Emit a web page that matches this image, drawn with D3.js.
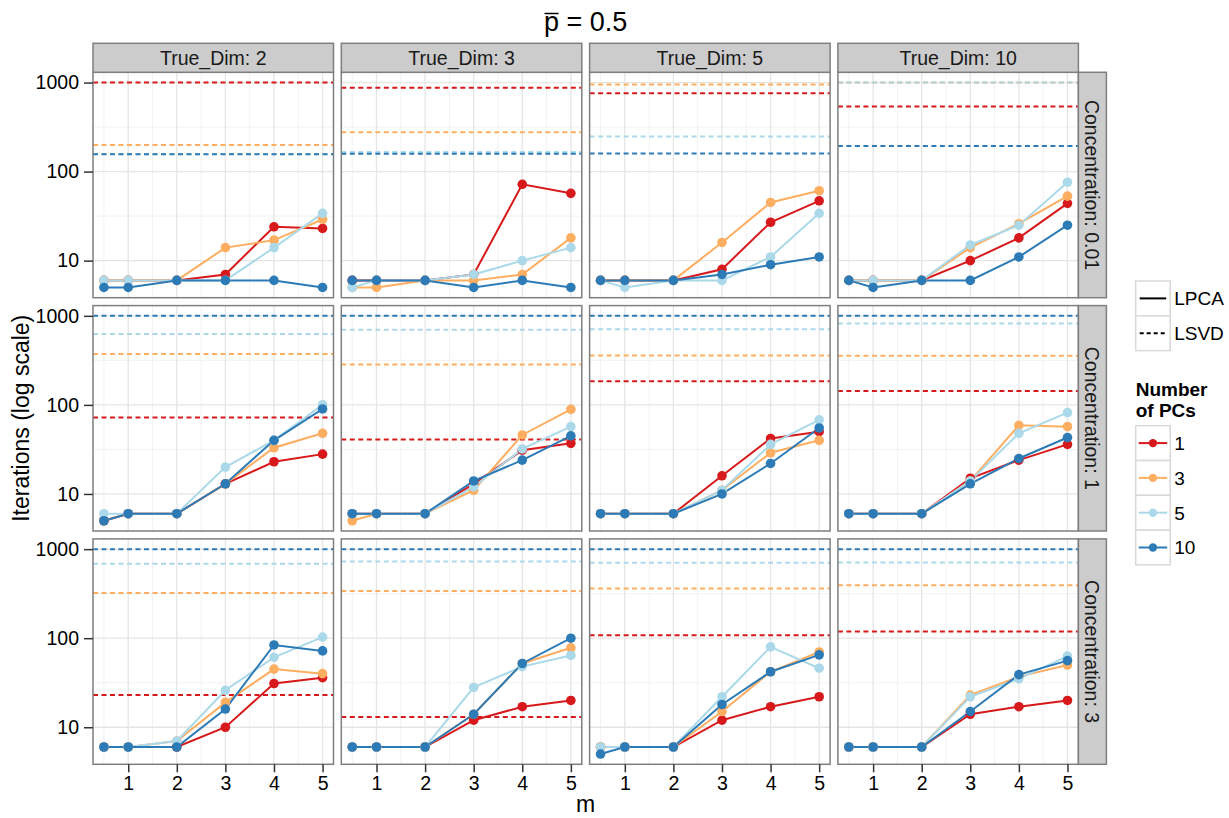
<!DOCTYPE html>
<html><head><meta charset="utf-8">
<script src="https://cdn.jsdelivr.net/npm/d3@7"></script>
<style>
body{margin:0;background:#fff}
svg text{font-family:"Liberation Sans",Arial,Helvetica,sans-serif}
</style>
</head><body>
<svg id="chart" width="1229" height="818"></svg>
<script>
// Facet levels and scale breaks
const trueDims = [2, 3, 5, 10];
const concentrations = ["0.01", "1", "3"];
const mValues = [0.5, 1, 2, 3, 4, 5];
const pcCounts = [1, 3, 5, 10];
const pcColors = ["#d7191c", "#fdae61", "#abd9e9", "#2c7bb6"];
const xTicks = [1, 2, 3, 4, 5];
const yTicks = [10, 100, 1000];
const methods = ["LPCA", "LSVD"];

// LPCA iterations by m: one array per concentration,
// rows = True_Dim 2, 3, 5, 10; inner lists = 1, 3, 5, 10 PCs
const lpcaConc001 = [
  [[6,6,6,7,24,23], [6,6,6,14,17,29], [6,6,6,6,14,34], [5,5,6,6,6,5]],
  [[6,6,6,7,72,57], [5,5,6,6,7,18], [5,6,6,7,10,14], [6,6,6,5,6,5]],
  [[6,6,6,8,27,47], [6,6,6,16,45,61], [6,5,6,6,11,34], [6,6,6,7,9,11]],
  [[6,6,6,10,18,44], [6,6,6,14,26,53], [6,6,6,15,25,76], [6,5,6,6,11,25]]
];
const lpcaConc1 = [
  [[5,6,6,13,23,28], [5,6,6,13,33,48], [6,6,6,20,40,100], [5,6,6,13,40,90]],
  [[6,6,6,13,31,37], [5,6,6,11,46,89], [6,6,6,12,32,57], [6,6,6,14,24,45]],
  [[6,6,6,16,42,50], [6,6,6,11,29,40], [6,6,6,11,36,68], [6,6,6,10,22,55]],
  [[6,6,6,15,24,36], [6,6,6,14,59,57], [6,6,6,14,48,82], [6,6,6,13,25,43]]
];
const lpcaConc3 = [
  [[6,6,6,10,31,36], [6,6,7,19,45,40], [6,6,7,26,61,103], [6,6,6,16,84,72]],
  [[6,6,6,12,17,20], [6,6,6,14,52,78], [6,6,6,28,48,64], [6,6,6,14,52,100]],
  [[6,6,6,12,17,22], [6,6,6,15,42,70], [6,6,6,22,80,46], [5,6,6,18,42,65]],
  [[6,6,6,14,17,20], [6,6,6,23,37,50], [6,6,6,22,35,63], [6,6,6,15,39,56]]
];

// LSVD iterations (constant in m): rows = True_Dim, entries = 1, 3, 5, 10 PCs
const lsvdConc001 = [[1000,199,158,157], [873,277,166,159], [760,950,248,160], [538,1000,1000,194]];
const lsvdConc1   = [[72,372,624,1000], [41,284,697,1000], [184,359,709,1000], [143,357,820,1000]];
const lsvdConc3   = [[23,321,685,1000], [13,338,728,1000], [108,362,703,1000], [119,394,708,1000]];

const lpcaByConc = [lpcaConc001, lpcaConc1, lpcaConc3];
const lsvdByConc = [lsvdConc001, lsvdConc1, lsvdConc3];

// Layout
const panelLeft = 93, panelW = 240.5, colStep = 248.3;
const panelTop = 72.3, panelH = 225.4, rowStep = 233.3;
const stripH = 29, rStripW = 28;
const borderCol = "#7f7f7f", stripFill = "#cccccc";

const svg = d3.select("#chart");

// Shared scales (5% expansion on each side)
const xExt = d3.extent(mValues), xPad = (xExt[1] - xExt[0]) * 0.05;
const x = d3.scaleLinear().domain([xExt[0] - xPad, xExt[1] + xPad]).range([0, panelW]);
const allVals = [lpcaByConc, lsvdByConc].flat(4);
const lMin = Math.log10(d3.min(allVals)), lMax = Math.log10(d3.max(allVals));
const lPad = (lMax - lMin) * 0.05;
const y = d3.scaleLog().domain([Math.pow(10, lMin - lPad), Math.pow(10, lMax + lPad)]).range([panelH, 0]);

const xMinor = [0.5, 1.5, 2.5, 3.5, 4.5];
const yMinor = [Math.pow(10, 1.5), Math.pow(10, 2.5)];

const line = d3.line().x((d, i) => x(mValues[i])).y(d => y(d));

concentrations.forEach((conc, r) => {
  trueDims.forEach((dim, c) => {
    const px = panelLeft + c * colStep, py = panelTop + r * rowStep;
    const g = svg.append("g").attr("transform", `translate(${px},${py})`);

    g.append("rect").attr("width", panelW).attr("height", panelH).attr("fill", "#fff");
    const clip = "clip-" + r + "-" + c;
    g.append("clipPath").attr("id", clip).append("rect").attr("width", panelW).attr("height", panelH);
    const inner = g.append("g").attr("clip-path", `url(#${clip})`);

    // minor grid
    inner.selectAll(".xm").data(xMinor).enter().append("line")
      .attr("x1", d => x(d)).attr("x2", d => x(d)).attr("y1", 0).attr("y2", panelH)
      .attr("stroke", "#f2f2f2").attr("stroke-width", 1);
    inner.selectAll(".ym").data(yMinor).enter().append("line")
      .attr("y1", d => y(d)).attr("y2", d => y(d)).attr("x1", 0).attr("x2", panelW)
      .attr("stroke", "#f2f2f2").attr("stroke-width", 1);
    // major grid
    inner.selectAll(".xM").data(xTicks).enter().append("line")
      .attr("x1", d => x(d)).attr("x2", d => x(d)).attr("y1", 0).attr("y2", panelH)
      .attr("stroke", "#e5e5e5").attr("stroke-width", 1.3);
    inner.selectAll(".yM").data(yTicks).enter().append("line")
      .attr("y1", d => y(d)).attr("y2", d => y(d)).attr("x1", 0).attr("x2", panelW)
      .attr("stroke", "#e5e5e5").attr("stroke-width", 1.3);

    // LSVD reference lines
    const lsvd = lsvdByConc[r][c];
    inner.selectAll(".lsvd").data(lsvd).enter().append("line")
      .attr("x1", 0).attr("x2", panelW)
      .attr("y1", d => y(d)).attr("y2", d => y(d))
      .attr("stroke", (d, i) => pcColors[i]).attr("stroke-width", 2)
      .attr("stroke-dasharray", "5,3.5");

    // LPCA lines then points
    const series = lpcaByConc[r][c];
    series.forEach((s, i) => {
      inner.append("path").attr("d", line(s)).attr("fill", "none")
        .attr("stroke", pcColors[i]).attr("stroke-width", 2);
    });
    series.forEach((s, i) => {
      inner.selectAll(".pt" + i).data(s).enter().append("circle")
        .attr("cx", (d, j) => x(mValues[j])).attr("cy", d => y(d)).attr("r", 4.8)
        .attr("fill", pcColors[i]);
    });

    g.append("rect").attr("width", panelW).attr("height", panelH)
      .attr("fill", "none").attr("stroke", borderCol).attr("stroke-width", 1.5);

    // top strips
    if (r === 0) {
      const s = svg.append("g").attr("transform", `translate(${px},${py - stripH})`);
      s.append("rect").attr("width", panelW).attr("height", stripH)
        .attr("fill", stripFill).attr("stroke", borderCol).attr("stroke-width", 1.5);
      s.append("text").attr("x", panelW / 2).attr("y", stripH / 2).attr("dy", "0.36em")
        .attr("text-anchor", "middle").attr("font-size", 19.5).attr("fill", "#1a1a1a")
        .text("True_Dim: " + dim);
    }
    // right strips
    if (c === trueDims.length - 1) {
      const s = svg.append("g").attr("transform", `translate(${px + panelW},${py})`);
      s.append("rect").attr("width", rStripW).attr("height", panelH)
        .attr("fill", stripFill).attr("stroke", borderCol).attr("stroke-width", 1.5);
      s.append("text").attr("transform", `translate(${rStripW / 2},${panelH / 2}) rotate(90)`)
        .attr("dy", "0.36em").attr("text-anchor", "middle").attr("font-size", 19.5)
        .attr("fill", "#1a1a1a").text("Concentration: " + conc);
    }
    // y axis on first column
    if (c === 0) {
      const ax = g.append("g").call(d3.axisLeft(y).tickValues(yTicks).tickFormat(d3.format("d"))
        .tickSize(9).tickPadding(5));
      ax.select(".domain").remove();
      ax.selectAll("line").attr("stroke", "#333").attr("stroke-width", 1.5);
      ax.selectAll("text").attr("font-size", 19.5).attr("fill", "#000")
        .style("font-family", "'Liberation Sans',Arial,sans-serif");
    }
    // x axis on bottom row
    if (r === concentrations.length - 1) {
      const ax = g.append("g").attr("transform", `translate(0,${panelH})`)
        .call(d3.axisBottom(x).tickValues(xTicks).tickFormat(d3.format("d")).tickSize(8).tickPadding(4));
      ax.select(".domain").remove();
      ax.selectAll("line").attr("stroke", "#333").attr("stroke-width", 1.5);
      ax.selectAll("text").attr("font-size", 19.5).attr("fill", "#000")
        .style("font-family", "'Liberation Sans',Arial,sans-serif");
    }
  });
});

const plotLeft = panelLeft, plotRight = panelLeft + 3 * colStep + panelW;
const plotTop = panelTop, plotBottom = panelTop + 2 * rowStep + panelH;

// axis titles
svg.append("text").attr("x", (plotLeft + plotRight) / 2).attr("y", 812)
  .attr("text-anchor", "middle").attr("font-size", 23).text("m");
svg.append("text").attr("transform", `translate(29,${(plotTop + plotBottom) / 2}) rotate(-90)`)
  .attr("text-anchor", "middle").attr("font-size", 23).text("Iterations (log scale)");

// title: p-bar = 0.5
const title = svg.append("text").attr("x", (plotLeft + plotRight) / 2).attr("y", 31)
  .attr("text-anchor", "middle").attr("font-size", 27).text("p = 0.5");
const tNode = title.node();
const tStart = tNode.getStartPositionOfChar(0).x;
const pW = tNode.getSubStringLength(0, 1);
svg.append("line").attr("x1", tStart + 0.5).attr("x2", tStart + pW - 0.5)
  .attr("y1", 13.5).attr("y2", 13.5).attr("stroke", "#000").attr("stroke-width", 1.5);

// linetype legend
const keyX = 1135.7, keyW = 34.5, keyH = 34.8;
const ltTop = 281;
methods.forEach((mth, i) => {
  const ky = ltTop + i * keyH;
  svg.append("rect").attr("x", keyX).attr("y", ky).attr("width", keyW).attr("height", keyH)
    .attr("fill", "#fff").attr("stroke", "#d9d9d9").attr("stroke-width", 1.5);
  svg.append("line").attr("x1", keyX + 4).attr("x2", keyX + keyW - 4)
    .attr("y1", ky + keyH / 2).attr("y2", ky + keyH / 2)
    .attr("stroke", "#000").attr("stroke-width", 2)
    .attr("stroke-dasharray", i === 1 ? "4,3" : null);
  svg.append("text").attr("x", keyX + keyW + 4).attr("y", ky + keyH / 2).attr("dy", "0.36em")
    .attr("font-size", 19).text(mth);
});

// colour legend
const lgTitle = svg.append("text").attr("x", keyX).attr("y", 396)
  .attr("font-size", 19).attr("font-weight", "bold");
lgTitle.append("tspan").attr("x", keyX).text("Number");
lgTitle.append("tspan").attr("x", keyX).attr("dy", 20.5).text("of PCs");
const colTop = 425.7;
pcCounts.forEach((pc, i) => {
  const ky = colTop + i * keyH;
  svg.append("rect").attr("x", keyX).attr("y", ky).attr("width", keyW).attr("height", keyH)
    .attr("fill", "#fff").attr("stroke", "#d9d9d9").attr("stroke-width", 1.5);
  svg.append("line").attr("x1", keyX + 3).attr("x2", keyX + keyW - 3)
    .attr("y1", ky + keyH / 2).attr("y2", ky + keyH / 2)
    .attr("stroke", pcColors[i]).attr("stroke-width", 2);
  svg.append("circle").attr("cx", keyX + keyW / 2).attr("cy", ky + keyH / 2).attr("r", 4.2)
    .attr("fill", pcColors[i]);
  svg.append("text").attr("x", keyX + keyW + 4).attr("y", ky + keyH / 2).attr("dy", "0.36em")
    .attr("font-size", 19).text(pc);
});
</script>
</body></html>
